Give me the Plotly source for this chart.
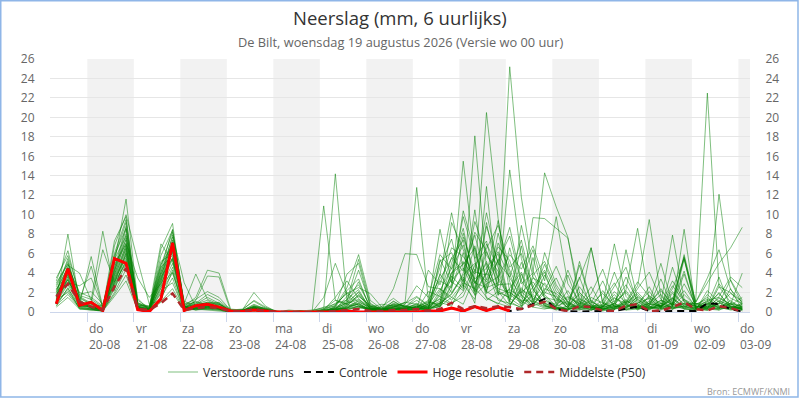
# Neerslag pluim ECMWF - De Bilt

import pandas as pd
import plotly.graph_objects as go

FONT = "Open Sans"

# 6-uurlijkse tijdstappen (lokale tijd), eerste stap 19-08 08:00, 60 stappen
START_TIME = "2026-08-19 08:00"
N_STEPS = 60
times = pd.date_range(START_TIME, periods=N_STEPS, freq="6h")

# Verstoorde runs (mm per 6 uur), per rij: 19-08 (3 stappen), dan 4 stappen per dag, 03-09 (1 stap)
ens_01 = [1.2, 8.0, 1.0, 0.6, 0.3, 4.2, 8.5, 0.8, 0.3, 2.5, 6.8, 0.5, 0.8, 1.2, 0.6, 0.1, 0.2, 0.5, 0.2, 0.0, 0.0, 0.0, 0.1,
          0.3, 1.2, 0.8, 2.1, 0.4, 0.2, 0.5, 1.0, 0.8, 0.3, 2.2, 4.5, 8.1, 3.2, 1.5, 0.8, 2.4, 4.1, 1.2, 0.6,
          0.3, 1.5, 0.8, 2.6, 0.5, 1.8, 0.4, 0.9, 2.1, 0.6, 1.4, 0.3, 0.2, 0.8, 1.9, 0.5, 0.3]
ens_02 = [3.2, 6.3, 1.5, 0.8, 0.2, 5.1, 11.6, 1.2, 0.4, 4.8, 8.2, 0.9, 3.9, 1.3, 0.8, 0.2, 0.3, 1.1, 0.4, 0.1, 0.0, 0.1, 0.2,
          0.4, 0.6, 2.5, 5.9, 1.2, 0.3, 0.8, 0.5, 1.5, 0.6, 3.8, 10.2, 4.5, 2.1, 6.2, 3.5, 1.8, 0.9, 2.2, 4.1,
          0.8, 0.2, 0.6, 0.4, 1.2, 3.0, 0.7, 0.5, 0.4, 1.2, 0.3, 0.6, 0.2, 0.5, 1.4, 0.8, 0.2]
ens_03 = [2.0, 5.5, 0.8, 5.7, 0.5, 3.8, 7.6, 0.4, 0.2, 6.5, 9.1, 0.4, 0.6, 0.9, 0.5, 0.0, 0.1, 0.6, 0.3, 0.0, 0.0, 0.0, 0.0,
          0.1, 0.3, 1.6, 2.8, 0.6, 0.2, 1.1, 0.4, 0.5, 1.2, 0.6, 2.3, 15.5, 5.2, 2.1, 1.4, 0.6, 2.5, 0.8, 1.9,
          3.5, 0.9, 0.4, 1.2, 0.3, 0.7, 2.2, 0.6, 0.5, 0.2, 0.8, 5.7, 0.4, 0.3, 2.6, 1.0, 0.6]
ens_04 = [1.5, 4.8, 4.0, 1.2, 8.3, 2.2, 6.1, 0.8, 0.5, 7.0, 5.2, 0.6, 1.5, 4.3, 4.0, 0.3, 0.2, 2.0, 0.6, 0.0, 0.1, 0.0, 0.0,
          0.0, 0.2, 0.4, 1.1, 0.3, 0.1, 0.2, 0.6, 0.2, 0.8, 8.5, 3.1, 2.2, 18.1, 4.5, 1.2, 0.9, 0.5, 1.8, 0.7,
          0.2, 0.6, 1.4, 0.3, 0.1, 0.4, 0.8, 1.5, 0.6, 0.3, 1.0, 0.4, 0.1, 0.6, 0.2, 0.9, 0.1]
ens_05 = [0.8, 3.6, 0.5, 0.3, 0.1, 6.8, 10.0, 5.3, 0.8, 1.2, 4.3, 0.2, 0.4, 0.6, 0.3, 0.0, 0.0, 0.3, 0.2, 0.0, 0.0, 0.0, 0.0,
          0.2, 0.4, 0.9, 1.3, 0.5, 0.3, 2.4, 6.0, 5.9, 2.6, 2.4, 1.5, 0.8, 3.6, 20.5, 9.6, 2.0, 1.2, 1.1, 0.5,
          0.4, 0.2, 0.7, 0.5, 0.8, 7.0, 1.6, 0.4, 0.3, 0.9, 0.5, 1.8, 0.6, 0.4, 0.3, 1.2, 0.2]
ens_06 = [2.6, 5.0, 1.2, 4.7, 0.4, 5.6, 9.2, 0.6, 0.3, 3.5, 7.9, 3.0, 0.5, 0.8, 0.4, 0.1, 0.2, 0.4, 0.1, 0.0, 0.2, 0.1, 0.0,
          10.9, 1.2, 0.8, 0.5, 0.2, 0.1, 0.3, 0.2, 0.4, 0.2, 1.0, 0.6, 3.4, 0.9, 12.9, 1.8, 2.3, 1.5, 0.5, 0.3,
          0.6, 1.1, 0.3, 0.5, 0.4, 0.9, 0.2, 0.6, 1.5, 0.4, 0.3, 0.8, 0.3, 0.2, 0.4, 0.5, 0.4]
ens_07 = [1.8, 4.2, 0.9, 0.5, 0.2, 4.5, 8.8, 0.3, 0.1, 5.8, 8.4, 0.7, 0.9, 1.8, 1.2, 0.2, 0.1, 0.8, 0.3, 0.0, 0.0, 0.0, 0.0,
          0.3, 14.2, 1.1, 4.3, 0.8, 0.2, 0.4, 0.3, 0.6, 0.3, 0.8, 9.2, 6.4, 3.0, 2.5, 3.0, 25.2, 11.8, 4.2, 1.6,
          0.5, 0.3, 0.8, 0.2, 0.6, 1.1, 2.8, 0.7, 0.3, 0.6, 1.5, 0.4, 1.2, 22.5, 2.6, 2.0, 0.7]
ens_08 = [1.0, 2.8, 0.6, 0.9, 6.4, 3.1, 6.6, 0.5, 0.2, 4.1, 7.2, 0.3, 0.7, 1.0, 0.9, 0.1, 0.0, 0.4, 0.1, 0.0, 0.0, 0.0, 0.0,
          0.0, 0.5, 2.2, 3.4, 0.3, 0.4, 0.2, 0.1, 0.3, 0.9, 4.6, 7.5, 2.6, 6.8, 1.4, 0.9, 0.5, 3.3, 6.4, 2.0,
          1.6, 0.4, 0.2, 0.6, 0.3, 0.5, 1.3, 0.2, 0.8, 2.4, 0.6, 3.9, 0.5, 1.1, 0.4, 0.3, 0.5]
ens_09 = [2.3, 4.6, 2.0, 1.5, 0.6, 6.0, 9.5, 0.9, 0.4, 3.9, 6.3, 0.5, 1.1, 0.7, 0.6, 0.0, 0.1, 0.2, 0.1, 0.0, 0.1, 0.0, 0.0,
          0.2, 1.5, 3.2, 1.4, 0.2, 0.6, 1.4, 0.5, 1.2, 0.4, 0.6, 3.6, 9.8, 5.5, 7.3, 2.2, 1.4, 0.6, 3.5, 2.8,
          0.9, 4.3, 1.5, 0.5, 0.2, 0.9, 3.6, 1.1, 0.3, 0.5, 2.1, 0.6, 0.4, 0.2, 0.9, 3.3, 1.2]
ens_10 = [3.5, 5.8, 1.8, 2.1, 0.8, 4.9, 7.0, 3.5, 1.5, 2.9, 5.6, 0.4, 0.3, 0.5, 0.3, 0.0, 0.1, 0.3, 0.2, 0.1, 0.0, 0.0, 0.1,
          0.5, 0.8, 1.9, 2.5, 1.9, 0.5, 0.7, 0.2, 0.2, 0.3, 5.2, 6.1, 3.1, 9.3, 5.8, 4.2, 0.8, 2.1, 0.9, 0.4,
          0.3, 0.6, 4.8, 1.0, 0.6, 0.3, 0.5, 2.4, 4.1, 1.3, 0.4, 0.9, 0.2, 2.2, 1.0, 0.4, 0.8]
ens_11 = [1.6, 3.9, 1.3, 0.4, 0.3, 3.4, 6.9, 0.6, 0.3, 4.4, 8.5, 0.8, 1.3, 2.1, 1.5, 0.2, 0.1, 0.6, 0.2, 0.0, 0.0, 0.1, 0.0,
          0.1, 0.2, 0.6, 0.9, 0.2, 0.1, 0.3, 0.8, 2.7, 1.5, 5.9, 4.4, 6.9, 2.4, 8.8, 5.1, 3.6, 7.4, 2.3, 0.8,
          0.4, 0.2, 0.9, 0.5, 0.2, 0.6, 0.3, 0.4, 0.9, 5.0, 0.8, 0.5, 0.3, 0.6, 0.5, 0.2, 0.3]
ens_12 = [0.9, 2.2, 0.4, 0.2, 0.1, 2.6, 5.4, 0.4, 0.1, 1.9, 4.6, 0.3, 1.2, 3.7, 3.6, 0.1, 0.2, 1.2, 0.5, 0.0, 0.0, 0.0, 0.0,
          0.0, 0.3, 0.7, 1.6, 0.7, 0.4, 0.2, 0.3, 0.6, 0.2, 1.9, 5.6, 4.2, 7.9, 3.3, 6.7, 5.3, 1.8, 0.6, 2.4,
          1.9, 0.8, 0.3, 0.2, 0.5, 1.4, 0.9, 1.8, 0.6, 0.3, 4.6, 1.0, 0.6, 0.4, 2.9, 1.4, 0.9]
ens_13 = [2.8, 5.2, 0.7, 1.1, 0.4, 7.3, 9.8, 0.7, 0.6, 5.2, 6.0, 0.6, 0.5, 0.7, 0.4, 0.0, 0.1, 0.2, 0.1, 0.0, 0.0, 0.1, 0.0,
          1.5, 5.0, 1.8, 0.6, 0.4, 0.2, 0.9, 0.6, 0.3, 4.3, 2.8, 6.6, 5.7, 3.9, 10.2, 4.8, 8.7, 3.2, 1.4, 0.9,
          0.5, 0.3, 1.1, 0.4, 2.2, 0.5, 0.8, 0.3, 0.7, 1.8, 0.6, 2.9, 0.8, 1.3, 0.6, 0.5, 0.4]
ens_14 = [1.4, 4.4, 1.1, 0.7, 0.3, 5.4, 7.8, 1.4, 0.2, 3.2, 7.4, 0.5, 0.8, 1.5, 0.9, 0.1, 0.2, 0.7, 0.3, 0.0, 0.0, 0.0, 0.0,
          0.2, 0.9, 1.2, 5.4, 0.9, 0.2, 0.5, 0.7, 0.4, 1.1, 0.5, 2.9, 10.4, 6.1, 2.0, 8.1, 3.9, 1.0, 5.6, 1.3,
          0.6, 2.2, 0.4, 6.6, 0.9, 0.3, 1.2, 0.5, 1.1, 0.4, 1.9, 0.8, 0.9, 0.5, 1.1, 0.7, 1.5]
ens_15 = [2.1, 3.3, 0.6, 0.5, 0.2, 4.0, 8.0, 0.5, 0.3, 4.6, 5.8, 0.3, 0.6, 0.4, 0.6, 0.0, 0.0, 0.4, 0.2, 0.0, 0.0, 0.0, 0.0,
          0.0, 0.6, 3.9, 5.0, 0.6, 0.3, 0.6, 0.9, 1.6, 0.7, 1.3, 0.8, 2.1, 4.8, 6.5, 8.9, 4.6, 6.0, 2.7, 0.7,
          0.3, 0.4, 2.6, 0.9, 3.2, 0.6, 0.3, 0.6, 0.4, 0.7, 3.2, 1.2, 0.5, 0.8, 0.3, 2.4, 0.2]
ens_16 = [1.1, 3.0, 2.7, 3.5, 0.5, 2.9, 6.3, 0.4, 0.2, 2.2, 3.0, 0.2, 0.4, 0.3, 0.2, 0.0, 0.1, 0.1, 0.0, 0.0, 0.0, 0.0, 0.0,
          0.1, 0.3, 0.4, 0.5, 0.3, 0.2, 0.5, 1.0, 12.8, 1.2, 3.4, 5.5, 7.4, 2.0, 4.1, 6.0, 1.1, 0.4, 3.8, 5.2,
          2.5, 0.6, 0.5, 0.3, 0.7, 2.6, 4.6, 0.8, 0.2, 0.9, 0.4, 0.6, 0.7, 0.3, 0.2, 0.6, 0.5]
ens_17 = [0.6, 2.5, 0.3, 0.3, 0.1, 2.0, 4.4, 0.2, 0.1, 1.5, 3.5, 0.1, 0.3, 0.2, 0.1, 0.0, 0.0, 0.2, 0.0, 0.0, 0.0, 0.0, 0.0,
          0.0, 0.2, 0.5, 0.8, 0.1, 0.0, 0.2, 0.4, 0.5, 0.2, 0.9, 1.8, 4.0, 8.2, 6.3, 2.7, 14.6, 5.5, 1.2, 3.0,
          1.4, 0.8, 3.6, 0.4, 0.4, 0.2, 6.4, 1.3, 0.5, 1.2, 0.8, 0.3, 0.3, 0.4, 0.9, 0.6, 0.3]
ens_18 = [1.9, 3.1, 1.6, 0.9, 0.4, 3.1, 5.0, 0.3, 0.4, 3.0, 6.6, 0.6, 0.2, 0.5, 0.8, 0.1, 0.0, 0.3, 0.1, 0.0, 0.0, 0.0, 0.0,
          0.2, 0.4, 0.3, 0.6, 0.2, 0.2, 0.8, 0.6, 0.3, 0.5, 0.7, 4.1, 5.2, 3.4, 4.5, 6.2, 3.5, 1.6, 9.7, 9.6,
          8.6, 7.6, 2.0, 0.8, 0.3, 0.5, 0.9, 2.0, 0.8, 0.6, 0.3, 1.3, 0.4, 0.9, 0.5, 0.3, 0.6]
ens_19 = [1.3, 2.0, 0.5, 0.6, 0.2, 1.8, 3.8, 0.3, 0.2, 1.1, 2.4, 0.2, 0.3, 0.4, 0.3, 0.0, 0.1, 0.5, 0.2, 0.0, 0.0, 0.0, 0.0,
          0.1, 0.5, 1.1, 0.7, 0.3, 0.1, 0.3, 0.2, 0.2, 2.1, 1.6, 0.9, 1.6, 4.4, 3.1, 5.3, 7.8, 2.9, 4.0, 14.3,
          10.8, 7.7, 1.0, 0.5, 0.2, 0.3, 0.6, 0.4, 0.6, 3.4, 0.5, 0.4, 0.5, 0.7, 3.6, 0.4, 0.3]
ens_20 = [2.4, 3.8, 1.4, 0.8, 0.6, 3.5, 5.8, 0.9, 0.6, 4.9, 6.9, 1.1, 0.6, 0.9, 0.7, 0.1, 0.1, 0.6, 0.4, 0.0, 0.0, 0.0, 0.0,
          0.0, 0.1, 0.3, 0.4, 0.4, 0.3, 1.1, 0.5, 0.7, 0.4, 3.2, 2.5, 6.1, 1.7, 2.9, 3.6, 5.9, 4.4, 6.8, 3.2,
          9.8, 2.9, 1.1, 0.6, 0.4, 0.9, 0.2, 0.3, 0.5, 0.4, 0.9, 4.2, 0.3, 1.8, 0.6, 0.9, 0.5]
ens_21 = [1.7, 4.0, 0.8, 0.5, 0.3, 4.3, 7.1, 0.6, 0.4, 3.6, 5.5, 0.5, 0.4, 0.6, 0.5, 0.1, 0.2, 0.4, 0.2, 0.0, 0.0, 0.1, 0.0,
          0.0, 0.4, 0.9, 3.1, 0.5, 0.1, 0.4, 0.3, 0.9, 0.5, 3.9, 2.0, 3.8, 5.0, 1.9, 2.8, 2.9, 0.6, 1.9, 4.9,
          2.1, 1.2, 3.4, 6.6, 1.0, 0.5, 1.1, 0.6, 2.6, 0.3, 0.5, 0.9, 0.4, 0.6, 2.0, 0.3, 0.4]
ens_22 = [0.7, 1.8, 0.4, 0.3, 0.1, 2.4, 4.9, 0.2, 0.1, 2.7, 4.1, 0.3, 0.5, 0.8, 1.0, 0.2, 0.1, 0.5, 0.3, 0.0, 0.0, 0.0, 0.0,
          0.0, 0.2, 0.6, 1.8, 0.3, 0.5, 0.2, 0.4, 0.2, 0.8, 2.4, 1.2, 2.8, 1.3, 7.0, 4.6, 1.2, 3.9, 0.8, 2.2,
          4.7, 1.8, 0.6, 1.9, 4.4, 1.0, 2.0, 0.4, 0.9, 0.6, 2.7, 1.1, 0.6, 0.3, 1.6, 3.6, 2.5]
ens_23 = [3.0, 4.9, 1.7, 1.3, 0.5, 5.8, 8.6, 0.7, 0.5, 4.0, 7.7, 0.8, 1.0, 0.6, 0.4, 0.1, 0.0, 0.2, 0.1, 0.0, 0.0, 0.0, 0.0,
          0.2, 0.7, 2.0, 1.0, 0.5, 0.8, 0.6, 0.3, 0.6, 0.6, 1.4, 3.7, 2.4, 10.5, 2.6, 7.1, 4.3, 1.7, 0.6, 1.1,
          0.8, 1.6, 0.9, 0.4, 0.5, 0.8, 2.3, 8.6, 1.2, 0.5, 1.4, 0.6, 0.9, 0.4, 0.8, 1.9, 1.1]
ens_24 = [1.1, 3.4, 0.9, 0.4, 0.2, 3.0, 6.0, 0.5, 0.2, 2.4, 5.0, 0.4, 0.6, 0.5, 0.3, 0.1, 0.1, 0.3, 0.1, 0.0, 0.0, 0.0, 0.0,
          0.0, 0.1, 0.4, 0.9, 0.2, 0.3, 0.5, 0.2, 0.5, 1.0, 0.8, 5.0, 8.6, 2.9, 5.2, 1.7, 6.6, 2.0, 3.1, 1.5,
          1.2, 0.5, 2.0, 0.7, 0.6, 4.1, 0.9, 2.7, 9.5, 1.6, 0.7, 2.2, 0.5, 0.9, 0.4, 0.8, 0.6]
ens_25 = [2.2, 4.5, 1.1, 0.6, 0.2, 4.6, 7.4, 1.0, 0.3, 3.3, 6.5, 0.6, 0.7, 1.0, 0.8, 0.1, 0.1, 0.5, 0.2, 0.0, 0.0, 0.0, 0.0,
          0.1, 0.3, 1.3, 2.3, 0.3, 0.2, 0.3, 0.5, 0.4, 0.3, 5.4, 3.0, 7.7, 4.1, 3.8, 9.4, 3.1, 0.8, 2.6, 4.3,
          1.7, 0.4, 0.3, 1.5, 0.9, 0.4, 1.0, 3.1, 1.6, 0.9, 7.9, 1.3, 0.7, 1.5, 0.5, 0.4, 0.9]
ens_26 = [1.6, 2.9, 1.2, 0.4, 0.2, 3.9, 6.8, 0.3, 0.2, 3.8, 7.0, 0.4, 0.2, 0.3, 0.5, 0.0, 0.1, 0.4, 0.1, 0.0, 0.0, 0.0, 0.0,
          0.0, 0.2, 0.5, 1.2, 0.4, 0.2, 0.6, 0.3, 0.3, 0.4, 0.5, 2.7, 5.1, 2.2, 9.2, 3.3, 1.6, 5.1, 2.4, 0.6,
          0.5, 0.3, 1.3, 0.8, 1.9, 0.6, 0.4, 1.3, 0.4, 0.7, 0.5, 8.5, 0.3, 0.2, 1.2, 0.6, 0.4]
ens_27 = [0.5, 1.5, 0.3, 0.2, 0.1, 1.6, 3.2, 0.2, 0.1, 1.0, 2.0, 0.2, 0.4, 0.3, 0.2, 0.0, 0.0, 0.1, 0.1, 0.0, 0.0, 0.0, 0.0,
          0.0, 0.1, 0.2, 0.6, 0.2, 0.1, 0.2, 0.1, 0.3, 0.2, 0.6, 1.5, 3.0, 2.4, 1.2, 2.1, 0.7, 2.3, 1.6, 0.9,
          0.4, 0.2, 5.2, 1.1, 0.3, 0.7, 0.4, 1.6, 0.8, 0.6, 1.2, 5.6, 1.0, 3.5, 6.4, 2.3, 1.0]
ens_28 = [1.3, 3.3, 0.9, 0.5, 0.3, 3.7, 6.5, 0.6, 0.2, 3.1, 6.2, 0.5, 0.4, 0.5, 0.4, 0.1, 0.1, 0.3, 0.2, 0.0, 0.0, 0.0, 0.0,
          0.1, 0.2, 0.8, 1.7, 0.6, 0.2, 0.3, 0.4, 0.4, 0.6, 1.1, 4.0, 4.9, 6.6, 2.2, 5.4, 1.0, 8.9, 3.6, 1.8,
          0.6, 3.8, 0.6, 0.2, 0.6, 1.5, 0.5, 0.9, 1.4, 0.5, 0.6, 5.4, 0.8, 1.0, 12.1, 3.2, 0.8]
ens_29 = [0.9, 2.4, 0.6, 0.3, 0.2, 2.8, 5.2, 0.4, 0.2, 2.0, 4.0, 0.3, 0.3, 0.4, 0.3, 0.0, 0.0, 0.2, 0.1, 0.0, 0.0, 0.0, 0.0,
          0.0, 0.1, 0.4, 0.8, 0.2, 0.2, 0.4, 0.3, 0.2, 0.5, 0.9, 1.9, 3.6, 1.8, 4.0, 2.4, 2.0, 1.1, 0.5, 6.1,
          2.8, 1.0, 0.4, 0.7, 0.3, 0.3, 0.7, 0.5, 0.9, 2.2, 0.8, 5.9, 1.0, 3.0, 5.0, 6.6, 8.7]
ens_30 = [1.2, 3.7, 0.7, 0.4, 0.2, 3.3, 5.6, 0.5, 0.3, 2.8, 5.4, 0.4, 0.5, 0.6, 0.4, 0.1, 0.1, 0.4, 0.2, 0.0, 0.0, 0.0, 0.0,
          0.0, 0.3, 1.0, 2.0, 0.3, 0.2, 0.7, 0.4, 0.8, 0.3, 1.7, 3.3, 4.5, 3.0, 5.0, 2.0, 1.5, 6.8, 1.0, 3.8,
          1.3, 0.7, 1.8, 0.4, 0.5, 2.1, 0.9, 0.3, 1.7, 0.5, 2.4, 5.5, 0.4, 1.2, 1.5, 0.8, 4.0]

members = [ens_01, ens_02, ens_03, ens_04, ens_05, ens_06, ens_07, ens_08, ens_09, ens_10,
           ens_11, ens_12, ens_13, ens_14, ens_15, ens_16, ens_17, ens_18, ens_19, ens_20,
           ens_21, ens_22, ens_23, ens_24, ens_25, ens_26, ens_27, ens_28, ens_29, ens_30]

# Hoge resolutie run (tot 10 dagen vooruit)
hres = [0.85, 4.45, 0.7, 1.0, 0.15, 5.5, 5.0, 0.25, 0.05, 1.35, 7.1, 0.15, 0.65, 0.8, 0.5, 0.1, 0.05, 0.2, 0.1, 0.0,
        0.0, 0.0, 0.0, 0.0, 0.0, 0.1, 0.0, 0.0, 0.0, 0.0, 0.0, 0.0, 0.1, 0.1, 0.4, 0.1, 0.55, 0.15, 0.5, 0.1]

# Controle run
control = [0.85, 4.45, 0.7, 1.0, 0.15, 5.5, 5.0, 0.25, 0.05, 1.35, 7.1, 0.15, 0.65, 0.8, 0.5, 0.1, 0.05, 0.2, 0.1, 0.0,
           0.0, 0.0, 0.0, 0.0, 0.0, 0.1, 0.0, 0.0, 0.0, 0.0, 0.0, 0.0, 0.1, 0.1, 0.4, 0.1, 0.55, 0.15, 0.5, 0.1,
           0.3, 0.8, 1.35, 0.3, 0.1, 0.05, 0.1, 0.1, 0.1, 0.3, 0.55, 0.1, 0.05, 0.1, 0.1, 0.1, 0.9, 0.8, 0.3, 0.05]

# Middelste (P50)
p50 = [1.6, 2.9, 1.05, 0.55, 0.2, 2.6, 4.5, 0.3, 0.2, 0.9, 1.9, 0.2, 0.4, 0.5, 0.4, 0.05, 0.05, 0.3, 0.1, 0.0,
       0.0, 0.0, 0.0, 0.0, 0.1, 0.2, 0.3, 0.1, 0.1, 0.2, 0.2, 0.3, 0.1, 0.3, 0.95, 0.3, 0.6, 0.4, 0.6, 0.5,
       0.3, 0.7, 1.05, 0.3, 0.1, 0.6, 0.5, 0.15, 0.1, 0.65, 0.8, 0.1, 0.15, 0.5, 1.0, 0.3, 0.15, 0.6, 0.4, 0.05]

# As-labels
DAY_NAMES = ["ma", "di", "wo", "do", "vr", "za", "zo"]
label_days = pd.date_range("2026-08-20", "2026-09-03", freq="D")
band_days = label_days[::2]
Y_TICKS = list(range(0, 27, 2))
X_RANGE = ["2026-08-19 04:45", "2026-09-03 06:00"]

# pixel layout helpers (plot area 50..750 x 59..312)
ML, MR, MT, MB = 50, 50, 59, 88
PW, PH = 800 - ML - MR, 400 - MT - MB


def px_x(px):
    return (px - ML) / PW


def px_y(py):
    return (400 - MB - py) / PH


fig = go.Figure()

for k, m in enumerate(members):
    fig.add_trace(go.Scatter(
        x=times, y=m, mode="lines", name="Verstoorde runs",
        legendgroup="ens", showlegend=(k == 0),
        line=dict(color="rgba(0,128,0,0.5)", width=1),
    ))

fig.add_trace(go.Scatter(
    x=times, y=control, mode="lines", name="Controle",
    line=dict(color="black", width=2, dash="7px,5px"),
))
fig.add_trace(go.Scatter(
    x=times[:len(hres)], y=hres, mode="lines", name="Hoge resolutie",
    line=dict(color="#ff0000", width=3),
))
fig.add_trace(go.Scatter(
    x=times, y=p50, mode="lines", name="Middelste (P50)", yaxis="y2",
    line=dict(color="#b0282a", width=2.5, dash="7px,5px"),
))

# grijze banden (om de dag)
for d in band_days:
    fig.add_shape(type="rect", xref="x", yref="paper",
                  x0=d, x1=d + pd.Timedelta(days=1), y0=0, y1=1,
                  fillcolor="#f2f2f2", line=dict(width=0), layer="below")

# x-as labels (dag + datum), links uitgelijnd op middernacht
for d in label_days:
    fig.add_annotation(
        x=d, y=px_y(318), xref="x", yref="paper",
        text=f"{DAY_NAMES[d.weekday()]}<br>{d.strftime('%d-%m')}",
        showarrow=False, xanchor="left", yanchor="top", align="left",
        font=dict(family=FONT, size=12, color="#666666"),
    )

# titel en ondertitel
fig.add_annotation(x=px_x(400), y=px_y(17), xref="paper", yref="paper",
                   text="Neerslag (mm, 6 uurlijks)", showarrow=False, yanchor="middle",
                   font=dict(family=FONT, size=18.5, color="#333333"))
fig.add_annotation(x=px_x(400), y=px_y(42), xref="paper", yref="paper",
                   text="De Bilt, woensdag 19 augustus 2026 (Versie wo 00 uur)", showarrow=False,
                   yanchor="middle", font=dict(family=FONT, size=12.8, color="#666666"))
fig.add_annotation(x=px_x(792), y=px_y(391), xref="paper", yref="paper",
                   text="Bron: ECMWF/KNMI", showarrow=False, xanchor="right", yanchor="middle",
                   font=dict(family=FONT, size=9, color="#999999"))

# blauwe rand om de grafiek
fig.add_shape(type="rect", xref="paper", yref="paper",
              x0=px_x(0.75), x1=px_x(798), y0=px_y(397), y1=px_y(0.75),
              line=dict(color="#8fb6e8", width=1.5), fillcolor="rgba(0,0,0,0)")

fig.update_layout(
    width=800, height=400,
    margin=dict(l=ML, r=MR, t=MT, b=MB),
    paper_bgcolor="white", plot_bgcolor="white",
    font=dict(family=FONT, size=12, color="#333333"),
    showlegend=True,
    legend=dict(orientation="h", x=0.51, xanchor="center", y=px_y(372), yanchor="middle",
                itemwidth=30, font=dict(family=FONT, size=12, color="#333333"),
                bgcolor="rgba(0,0,0,0)"),
    xaxis=dict(type="date", range=X_RANGE, showgrid=False, zeroline=False,
               showline=True, linecolor="#ccd6eb", linewidth=1,
               ticks="outside", ticklen=9, tickcolor="#ccd6eb",
               tickvals=list(label_days), showticklabels=False),
    yaxis=dict(range=[0, 26], tickvals=Y_TICKS, showgrid=True, gridcolor="#e6e6e6",
               zeroline=False, showline=False, ticks="outside", ticklen=12,
               tickcolor="rgba(0,0,0,0)", tickfont=dict(family=FONT, size=12, color="#666666")),
    yaxis2=dict(range=[0, 26], tickvals=Y_TICKS, overlaying="y", side="right", showgrid=False,
                zeroline=False, showline=False, ticks="outside", ticklen=12,
                tickcolor="rgba(0,0,0,0)", tickfont=dict(family=FONT, size=12, color="#666666")),
)

# pagina zonder marge zodat de figuur precies in het venster valt
fig.write_html("out.html", config={"displayModeBar": False},
               post_script="document.body.style.margin='0px';")
